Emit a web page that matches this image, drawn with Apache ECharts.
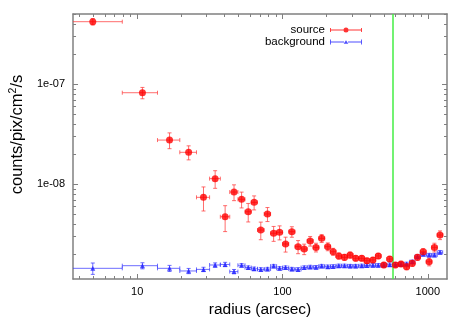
<!DOCTYPE html>
<html><head><meta charset="utf-8">
<script src="https://cdn.jsdelivr.net/npm/echarts@6.0.0/dist/echarts.min.js"></script>
<style>html,body{margin:0;padding:0;background:#fff}#c{width:467px;height:327px}</style>
</head><body><div id="c"></div>
<script>
// radius bin centres (arcsec)
const radius = [4.95, 10.87, 16.7, 22.6, 28.6, 34.4, 40.3, 46.4, 52.3, 58.1, 63.8, 70.9, 78.8, 86.9, 95.5, 105, 116, 128, 141, 155, 170, 186, 205, 223, 244, 267, 292, 319, 351, 381, 419, 456, 498, 547, 598, 654, 715, 782, 849, 929, 1021, 1110, 1213];
// radius bin edges (arcsec)
const binEdges = [2.0, 7.9, 13.8, 19.65, 25.6, 31.5, 37.35, 43.35, 49.35, 55.2, 60.95, 67.3, 74.8, 82.8, 91.1, 100.2, 110.4, 121.9, 134.3, 147.8, 162.5, 177.9, 195.3, 213.9, 233.3, 255.3, 279.3, 305.3, 334.8, 365.8, 399.6, 437.1, 476.6, 521.9, 572.1, 625.6, 683.8, 747.8, 814.8, 888.1, 974, 1064.6, 1160.4, 1265];
// source surface brightness
const sourceVal = [4.23e-7, 8.24e-8, 2.77e-8, 2.09e-8, 7.41e-9, 1.14e-8, 4.74e-9, 8.37e-9, 7.08e-9, 5.32e-9, 6.6e-9, 3.49e-9, 5.05e-9, 3.24e-9, 3.31e-9, 2.53e-9, 3.36e-9, 2.38e-9, 2.25e-9, 2.71e-9, 2.34e-9, 2.88e-9, 2.38e-9, 2.12e-9, 1.92e-9, 1.86e-9, 1.96e-9, 1.82e-9, 1.82e-9, 1.72e-9, 1.75e-9, 1.92e-9, 1.56e-9, 1.79e-9, 1.56e-9, 1.6e-9, 1.5e-9, 1.62e-9, 1.86e-9, 2.12e-9, 1.68e-9, 2.34e-9, 3.11e-9];
// relative errors of source
const sourceRelErr = [0.073, 0.13, 0.18, 0.16, 0.27, 0.2, 0.29, 0.18, 0.18, 0.21, 0.16, 0.2, 0.16, 0.17, 0.16, 0.17, 0.12, 0.15, 0.12, 0.11, 0.1, 0.09, 0.09, 0.08, 0.07, 0.07, 0.07, 0.06, 0.06, 0.06, 0.06, 0.06, 0.06, 0.06, 0.06, 0.06, 0.07, 0.07, 0.07, 0.07, 0.09, 0.1, 0.1];
// background surface brightness
const backgroundVal = [1.445e-9, 1.535e-9, 1.445e-9, 1.36e-9, 1.41e-9, 1.56e-9, 1.58e-9, 1.34e-9, 1.55e-9, 1.47e-9, 1.43e-9, 1.41e-9, 1.42e-9, 1.52e-9, 1.445e-9, 1.47e-9, 1.42e-9, 1.41e-9, 1.47e-9, 1.49e-9, 1.48e-9, 1.52e-9, 1.5e-9, 1.51e-9, 1.53e-9, 1.53e-9, 1.52e-9, 1.52e-9, 1.53e-9, 1.54e-9, 1.55e-9, 1.55e-9, 1.56e-9, 1.57e-9, 1.58e-9, 1.59e-9, 1.6e-9, 1.68e-9, 1.89e-9, 2.0e-9, 1.96e-9, 1.96e-9, 2.09e-9];
const backgroundRelErr = [0.13, 0.07, 0.07, 0.06, 0.05, 0.05, 0.05, 0.05, 0.04, 0.04, 0.04, 0.04, 0.04, 0.04, 0.04, 0.04, 0.04, 0.04, 0.04, 0.04, 0.04, 0.04, 0.04, 0.04, 0.04, 0.04, 0.04, 0.04, 0.04, 0.04, 0.04, 0.04, 0.04, 0.04, 0.04, 0.04, 0.04, 0.04, 0.04, 0.04, 0.04, 0.04, 0.04];
const cutRadius = 572;
const xMajorTicks = [10, 100, 1000];
const xMinorTicks = [4, 5, 6, 7, 8, 9, 20, 30, 40, 50, 60, 70, 80, 90, 200, 300, 400, 500, 600, 700, 800, 900];
const yMajorTicks = [1e-8, 1e-7];
const yMinorTicks = [2e-9, 3e-9, 4e-9, 5e-9, 6e-9, 7e-9, 8e-9, 9e-9, 2e-8, 3e-8, 4e-8, 5e-8, 6e-8, 7e-8, 8e-8, 9e-8, 2e-7, 3e-7, 4e-7, 5e-7];

const FONT = 'Liberation Sans';
const X_MIN = 3.62, X_MAX = 1355, Y_MIN = 1.13e-9, Y_MAX = 5.05e-7;
const AX = '#808080';

function errData(vals, rel) {
  return radius.map((r, i) => [r, binEdges[i], binEdges[i + 1], vals[i], vals[i] * (1 - rel[i]), vals[i] * (1 + rel[i])]);
}
function errRender(color) {
  return function (params, api) {
    const x = api.value(0), xl = api.value(1), xh = api.value(2), y = api.value(3), yl = api.value(4), yh = api.value(5);
    const a = api.coord([xl, y]), b = api.coord([xh, y]), c = api.coord([x, yl]), d = api.coord([x, yh]);
    const k = 2;
    const st = { stroke: color, lineWidth: 1 };
    const L = (x1, y1, x2, y2) => ({ type: 'line', shape: { x1, y1, x2, y2 }, style: st });
    return { type: 'group', children: [
      L(a[0], a[1], b[0], b[1]), L(a[0], a[1] - k, a[0], a[1] + k), L(b[0], b[1] - k, b[0], b[1] + k),
      L(c[0], c[1], d[0], d[1]), L(c[0] - k, c[1], c[0] + k, c[1]), L(d[0] - k, d[1], d[0] + k, d[1])
    ] };
  };
}
function xAx(pos, major, showLabel) {
  return {
    type: 'log', logBase: 10, min: X_MIN, max: X_MAX, position: pos, gridIndex: 0,
    axisLine: { show: major, lineStyle: { color: AX, width: 1.5 } },
    axisTick: { show: true, inside: true, length: major ? 5 : 3, customValues: major ? xMajorTicks : xMinorTicks, lineStyle: { color: AX, width: 1 } },
    axisLabel: { show: showLabel, customValues: xMajorTicks, margin: 7, color: '#000', fontFamily: FONT, fontSize: 11, formatter: v => String(Math.round(v)) },
    splitLine: { show: false }, minorTick: { show: false }, minorSplitLine: { show: false },
    name: showLabel ? 'radius (arcsec)' : '', nameLocation: 'middle', nameGap: 22,
    nameTextStyle: { fontFamily: FONT, fontSize: 15.5, color: '#000' }
  };
}
function fmtY(v) {
  const e = Math.round(Math.log10(v));
  return '1e' + (e < 0 ? '-' : '+') + String(Math.abs(e)).padStart(2, '0');
}
function yAx(pos, major, showLabel) {
  return {
    type: 'log', logBase: 10, min: Y_MIN, max: Y_MAX, position: pos, gridIndex: 0,
    axisLine: { show: major, lineStyle: { color: AX, width: 1.5 } },
    axisTick: { show: true, inside: true, length: major ? 5 : 3, customValues: major ? yMajorTicks : yMinorTicks, lineStyle: { color: AX, width: 1 } },
    axisLabel: { show: showLabel, customValues: yMajorTicks, margin: 8, color: '#000', fontFamily: FONT, fontSize: 11, formatter: fmtY },
    splitLine: { show: false }, minorTick: { show: false }, minorSplitLine: { show: false },
    name: showLabel ? '{a|counts/pix/cm}{s|2}{a|/s}' : '', nameLocation: 'middle', nameGap: 46,
    nameTextStyle: { fontFamily: FONT, fontSize: 16.5, color: '#000', padding: [0, 0, 0, 24],
      rich: { a: { fontFamily: FONT, fontSize: 16.5, color: '#000', lineHeight: 19 }, s: { fontFamily: FONT, fontSize: 10.5, color: '#000', verticalAlign: 'top', lineHeight: 12 } } }
  };
}

const iconSource = 'path://M0 2.1H13.5V2.9H0Z M18.5 2.1H32V2.9H18.5Z M0 0.5H0.9V4.5H0Z M31.1 0.5H32V4.5H31.1Z M13.5 2.5A2.5 2.5 0 1 0 18.5 2.5A2.5 2.5 0 1 0 13.5 2.5Z';
const iconBg = 'path://M0 2.1H14V2.9H0Z M18 2.1H32V2.9H18Z M0 0H0.9V5H0Z M31.1 0H32V5H31.1Z M16 0.8L18.3 4.2L13.7 4.2Z';

const chart = echarts.init(document.getElementById('c'), null, { renderer: 'canvas' });
chart.setOption({
  animation: false,
  textStyle: { fontFamily: FONT },
  grid: { left: 70, right: 20, top: 14, bottom: 48, containLabel: false },
  xAxis: [xAx('bottom', true, true), xAx('bottom', false, false), xAx('top', true, false), xAx('top', false, false)],
  yAxis: [yAx('left', true, true), yAx('left', false, false), yAx('right', true, false), yAx('right', false, false)],
  legend: {
    orient: 'vertical', align: 'right', right: 105, top: 24, padding: 0, itemGap: 0,
    itemWidth: 32, itemHeight: 5,
    textStyle: { fontFamily: FONT, fontSize: 11.5, color: '#000', lineHeight: 12 },
    data: [{ name: 'source', icon: iconSource }, { name: 'background', icon: iconBg }]
  },
  series: [
    { type: 'custom', name: 'bgErr', xAxisIndex: 0, yAxisIndex: 0, clip: true, renderItem: errRender('rgba(60,60,255,0.75)'),
      encode: { x: [0, 1, 2], y: [3, 4, 5] }, data: errData(backgroundVal, backgroundRelErr), z: 2, silent: true },
    { type: 'custom', name: 'srcErr', xAxisIndex: 0, yAxisIndex: 0, clip: true, renderItem: errRender('rgba(255,60,60,0.75)'),
      encode: { x: [0, 1, 2], y: [3, 4, 5] }, data: errData(sourceVal, sourceRelErr), z: 3, silent: true },
    { type: 'scatter', name: 'background', xAxisIndex: 0, yAxisIndex: 0, symbol: 'triangle', symbolSize: 5,
      itemStyle: { color: '#2020ff' }, data: radius.map((r, i) => [r, backgroundVal[i]]), z: 4, clip: true,
      markLine: { silent: true, symbol: ['none', 'none'], label: { show: false }, animation: false,
        lineStyle: { color: '#44ee44', width: 1.5, type: 'solid' }, data: [{ xAxis: cutRadius }] } },
    { type: 'scatter', name: 'source', xAxisIndex: 0, yAxisIndex: 0, symbol: 'circle', symbolSize: 7,
      itemStyle: { color: '#ff0000' }, data: radius.map((r, i) => [r, sourceVal[i]]), z: 5, clip: true }
  ]
});
</script>
</body></html>
